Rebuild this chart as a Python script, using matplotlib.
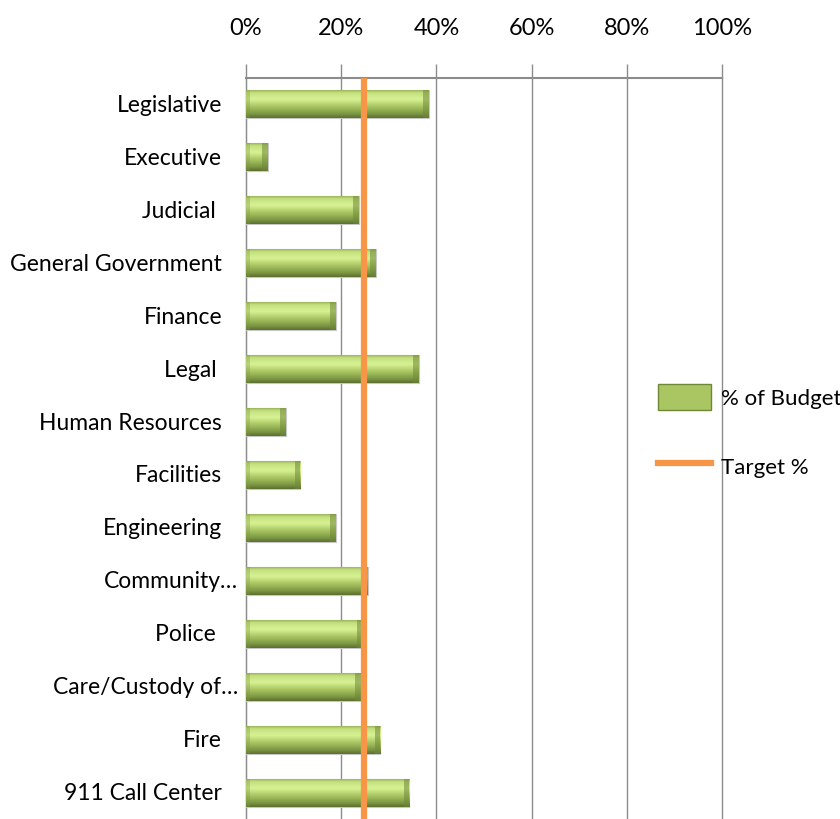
import numpy as np
import matplotlib
matplotlib.use('Agg')
import matplotlib.pyplot as plt
from matplotlib.colors import LinearSegmentedColormap
from matplotlib.patches import Rectangle
from matplotlib.lines import Line2D

plt.rcParams['font.family'] = ['Lato', 'DejaVu Sans']

# data (fractions of budget)
departments = ['Legislative', 'Executive', 'Judicial ', 'General Government', 'Finance',
               'Legal ', 'Human Resources', 'Facilities', 'Engineering', 'Community\u2026',
               'Police ', 'Care/Custody of\u2026', 'Fire', '911 Call Center']
pct_budget = [0.384, 0.046, 0.237, 0.273, 0.189, 0.363, 0.084, 0.114, 0.189,
              0.256, 0.246, 0.241, 0.282, 0.343]
target_pct = 0.248
x_ticks = [0, 0.2, 0.4, 0.6, 0.8, 1.0]
x_tick_labels = ['0%', '20%', '40%', '60%', '80%', '100%']

fig = plt.figure(figsize=(8.4, 8.2), dpi=100)
ax = fig.add_axes([0.2929, 0.0, 0.8595 - 0.2929, 0.9037])

# bevelled green gradient used for bars
green = LinearSegmentedColormap.from_list('bev', [
    (0.0, '#8fa654'), (0.12, '#c4e07e'), (0.35, '#d8f293'),
    (0.6, '#a9c663'), (0.85, '#7e9944'), (1.0, '#5d6f31')])
grad = np.linspace(0, 1, 64).reshape(-1, 1)

ypos = np.arange(len(departments))
bar_h = 0.53
bars = ax.barh(ypos, pct_budget, height=bar_h, color='#a9c663',
               edgecolor='#c8c8c8', linewidth=0.8, zorder=3)
for b in bars:
    x0, y0, w, h = b.get_x(), b.get_y(), b.get_width(), b.get_height()
    im = ax.imshow(grad, cmap=green, aspect='auto', extent=(x0, x0 + w, y0 + h, y0),
                   zorder=3.5, interpolation='bicubic')
    im.set_clip_path(b)
    # darker bevel at the right end, lighter at the left
    ax.add_patch(Rectangle((x0 + w - 0.012, y0), 0.012, h, color='#6f8838',
                           alpha=0.55, zorder=3.6, lw=0))
    ax.add_patch(Rectangle((x0, y0), 0.008, h, color='#7e9944',
                           alpha=0.35, zorder=3.6, lw=0))

ax.axvline(target_pct, color='#f79646', lw=4.5, zorder=5)

ax.set_xlim(0, 1)
ax.set_ylim(len(departments) - 0.5, -0.5)

ax.xaxis.tick_top()
ax.set_xticks(x_ticks)
ax.set_xticklabels(x_tick_labels, fontsize=17)
ax.tick_params(axis='x', direction='out', length=10, width=1, color='#8c8c8c', pad=19)
ax.set_yticks([])
ax.grid(axis='x', color='#8c8c8c', lw=1, zorder=0)
for gl in ax.get_xgridlines():
    gl.set_clip_on(False)

for s in ['bottom', 'right']:
    ax.spines[s].set_visible(False)
ax.spines['top'].set_color('#8c8c8c')
ax.spines['top'].set_linewidth(1.5)
ax.spines['left'].set_color('#8c8c8c')

for i, name in enumerate(departments):
    off = -8 if name.endswith('\u2026') else -24
    ax.annotate(name, xy=(0, i), xycoords=('axes fraction', 'data'),
                xytext=(off, 0), textcoords='offset pixels',
                ha='right', va='center', fontsize=16.5, annotation_clip=False)

handles = [Rectangle((0, 0), 1, 1, facecolor='#a9c663', edgecolor='#6f8838'),
           Line2D([0], [0], color='#f79646', lw=4.5)]
fig.legend(handles, ['% of Budget', 'Target %'], loc='center left',
           bbox_to_anchor=(0.783, 0.473), frameon=False, fontsize=16,
           borderpad=0, borderaxespad=0,
           handlelength=2.4, handleheight=1.45, labelspacing=1.9, handletextpad=0.45)

fig.savefig('out.png', dpi=100)
